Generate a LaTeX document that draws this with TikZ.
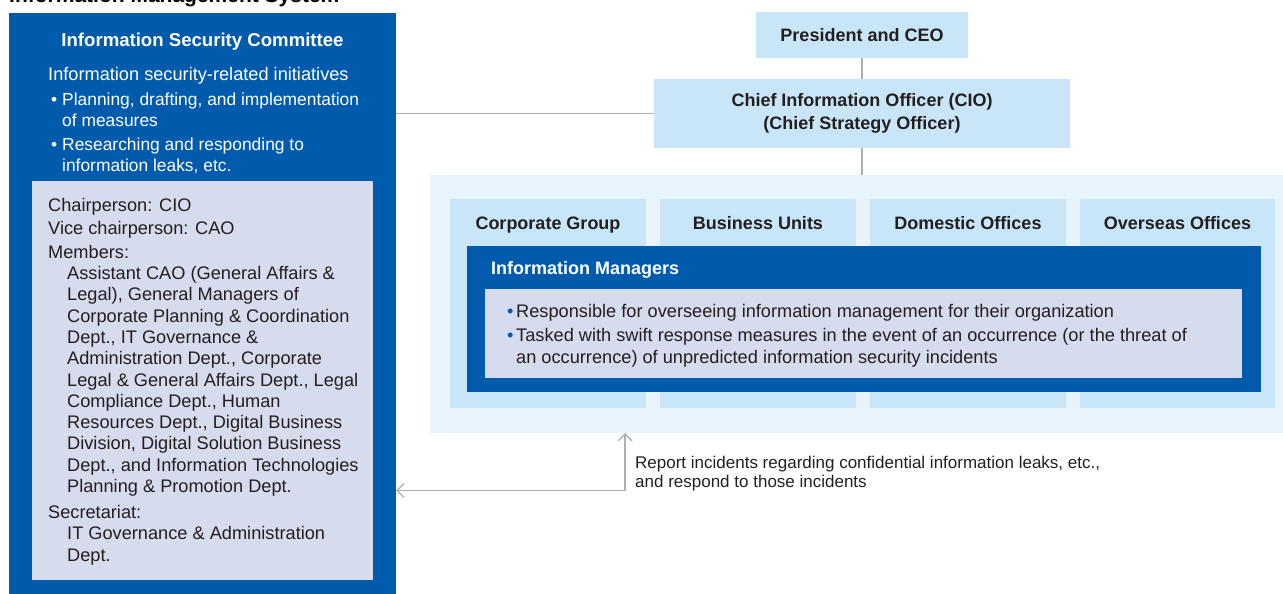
\documentclass[tikz,border=0pt]{standalone}
\usepackage{fontspec}
\setmainfont{Liberation Sans}
\usetikzlibrary{arrows.meta}
\definecolor{dblue}{HTML}{005BAC}
\definecolor{lav}{HTML}{D6DBEE}
\definecolor{lblue}{HTML}{C8E6F8}
\definecolor{pale}{HTML}{E7F4FC}
\definecolor{lgray}{HTML}{ADAFB2}
\definecolor{txt}{HTML}{231F20}
\begin{document}
\begin{tikzpicture}[x=1pt,y=-1pt,
  blk/.style={inner sep=0pt, outer sep=0pt, anchor=north west},
  hd/.style={font=\fontsize{18}{23}\selectfont\bfseries, text=txt, inner sep=0pt},
  bodytxt/.style={font=\fontsize{18.2}{21.3}\selectfont, inner sep=0pt, align=left, anchor=base west},
  conn/.style={draw=lgray, line width=1.3pt},
  arr/.style={draw=lgray, line width=1.3pt, {Straight Barb[length=7pt,width=14pt]}-{Straight Barb[length=7pt,width=14pt]}}
]
\useasboundingbox (0,0) rectangle (1283,594);

% cut-off title
\node[inner sep=0pt, anchor=base west, font=\fontsize{21}{24}\selectfont\bfseries] (title) at (9,3) {Information Management System};

% left committee box
\node[blk, fill=dblue, minimum width=387pt, minimum height=581pt] (isc) at (9,13) {};
\node[blk, fill=lav, minimum width=341pt, minimum height=399pt] (iscin) at (32,181) {};
\node[inner sep=0pt, anchor=base, text=white, font=\fontsize{18.6}{23}\selectfont\bfseries] (isct) at (202.5,46.5) {Information Security Committee};
\node[bodytxt, text=white] (isca) at (48,81) {Information security-related initiatives};
\node[bodytxt, text=white, font=\fontsize{17.4}{21.3}\selectfont] (iscb) at (48,171.5) {\makebox[14pt][l]{\hspace{3pt}\textbullet}Planning, drafting, and implementation\\
\hspace*{14pt}of measures\\[2.6pt]
\makebox[14pt][l]{\hspace{3pt}\textbullet}Researching and responding to\\
\hspace*{14pt}information leaks, etc.};
\node[bodytxt, text=txt] (iscm) at (48,561) {Chairperson: CIO\\[1.8pt]
Vice chairperson: CAO\\[2.4pt]
Members:\\
\hspace*{19pt}Assistant CAO (General Affairs \&\\
\hspace*{19pt}Legal), General Managers of\\
\hspace*{19pt}Corporate Planning \& Coordination\\
\hspace*{19pt}Dept., IT Governance \&\\
\hspace*{19pt}Administration Dept., Corporate\\
\hspace*{19pt}Legal \& General Affairs Dept., Legal\\
\hspace*{19pt}Compliance Dept., Human\\
\hspace*{19pt}Resources Dept., Digital Business\\
\hspace*{19pt}Division, Digital Solution Business\\
\hspace*{19pt}Dept., and Information Technologies\\
\hspace*{19pt}Planning \& Promotion Dept.\\[4.6pt]
Secretariat:\\
\hspace*{19pt}IT Governance \& Administration\\
\hspace*{19pt}Dept.};

% top hierarchy
\node[fill=lblue, hd, minimum width=212pt, minimum height=46pt] (ceo) at (862,35) {President and CEO};
\node[fill=lblue, hd, minimum width=416pt, minimum height=69pt, align=center] (cio) at (862,113.5) {Chief Information Officer (CIO)\\(Chief Strategy Officer)};

% organisation region
\node[blk, fill=pale, minimum width=853pt, minimum height=258pt] (reg) at (430,175) {};
\node[blk, fill=lblue, minimum width=196pt, minimum height=209pt] (c1) at (450,199) {};
\node[blk, fill=lblue, minimum width=196pt, minimum height=209pt] (c2) at (660,199) {};
\node[blk, fill=lblue, minimum width=196pt, minimum height=209pt] (c3) at (870,199) {};
\node[blk, fill=lblue, minimum width=195pt, minimum height=209pt] (c4) at (1080,199) {};
\node[hd, anchor=base] (c1t) at (c1.north |- 0,229.5) {Corporate Group};
\node[hd, anchor=base] (c2t) at (c2.north |- 0,229.5) {Business Units};
\node[hd, anchor=base] (c3t) at (c3.north |- 0,229.5) {Domestic Offices};
\node[hd, anchor=base] (c4t) at (c4.north |- 0,229.5) {Overseas Offices};

\node[blk, fill=dblue, minimum width=794pt, minimum height=146pt] (im) at (467,246) {};
\node[hd, text=white, anchor=base west] (imt) at (491,274.5) {Information Managers};
\node[blk, fill=lav, minimum width=757pt, minimum height=89pt] (imin) at (485,289) {};
\node[bodytxt, text=txt] (imb) at (507,363) {\makebox[9pt][l]{\textcolor{dblue}{\textbullet}}Responsible for overseeing information management for their organization\\[2.6pt]
\makebox[9pt][l]{\textcolor{dblue}{\textbullet}}Tasked with swift response measures in the event of an occurrence (or the threat of\\
\hspace*{9pt}an occurrence) of unpredicted information security incidents};

% connectors
\draw[conn] (ceo.south) -- (cio.north);
\draw[conn] (cio.south) -- (cio.south |- reg.north);
\draw[conn] (cio.west) -- (cio.west -| isc.east);
\coordinate (corner) at (625,490.5);
\draw[arr] (corner |- reg.south) -- (corner) -- (corner -| isc.east);
\node[inner sep=0pt, anchor=base west, align=left, text=txt, font=\fontsize{17}{19}\selectfont] (rep) at (635,487.5) {Report incidents regarding confidential information leaks, etc.,\\and respond to those incidents};
\end{tikzpicture}
\end{document}
